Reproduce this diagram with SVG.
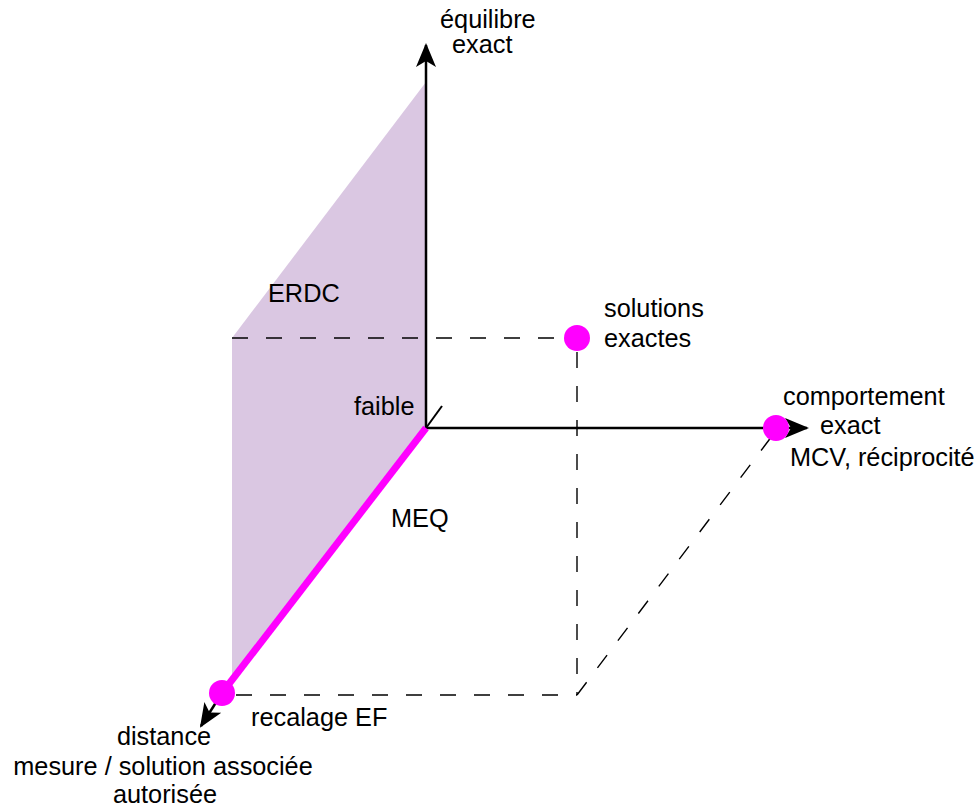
<svg xmlns="http://www.w3.org/2000/svg" width="980" height="809" viewBox="0 0 980 809">
<style>
text{font-family:"Liberation Sans",Arial,sans-serif;font-size:25.3px;fill:#000}
.dash{stroke:#000;stroke-width:1.4;fill:none;stroke-dasharray:16 18}
.axis{stroke:#000;stroke-width:2.5;fill:none}
.dot{fill:#ff00ff}
</style>
<defs>
<marker id="arr" viewBox="0 0 24 22" refX="22" refY="11" markerWidth="24" markerHeight="22" markerUnits="userSpaceOnUse" orient="auto">
<path d="M0,1 L24,11 L0,21 L6,11 Z" fill="#000"/>
</marker>
</defs>
<rect width="980" height="809" fill="#fff"/>
<g id="plane-erdc">
<polygon points="426,82 232,338 232,680 426,428" fill="#dac7e2"/>
<text x="268" y="302">ERDC</text>
</g>
<g id="connectors">
<line class="dash" x1="232" y1="338" x2="563" y2="338"/>
<line class="dash" x1="577" y1="352" x2="577" y2="695"/>
<line class="dash" x1="236" y1="695" x2="577" y2="695"/>
<line class="dash" x1="577" y1="695" x2="772" y2="436"/>
<line class="axis" x1="426" y1="428" x2="426" y2="45" marker-end="url(#arr)"/>
<line class="axis" x1="426" y1="428" x2="807" y2="428" marker-end="url(#arr)"/>
<line class="axis" x1="222" y1="693" x2="201" y2="726" marker-end="url(#arr)"/>
<line stroke="#000" stroke-width="2" x1="426" y1="428" x2="442" y2="406"/>
<line stroke="#ff00ff" stroke-width="7" x1="426" y1="428" x2="222" y2="693"/>
</g>
<g id="axis-equilibre">
<text x="440" y="28">équilibre</text>
<text x="452" y="53">exact</text>
</g>
<g id="origin">
<text x="354" y="415">faible</text>
<text x="391" y="527">MEQ</text>
</g>
<g id="solutions-exactes">
<circle class="dot" cx="577" cy="338" r="13"/>
<text x="604" y="317">solutions</text>
<text x="604" y="347">exactes</text>
</g>
<g id="comportement-exact">
<circle class="dot" cx="776" cy="428" r="13"/>
<text x="783" y="405">comportement</text>
<text x="820" y="434">exact</text>
<text x="790" y="466">MCV, réciprocité</text>
</g>
<g id="recalage-ef">
<circle class="dot" cx="222" cy="693" r="13"/>
<text x="251" y="726">recalage EF</text>
</g>
<g id="axis-distance">
<text x="164" y="745" text-anchor="middle">distance</text>
<text x="163" y="775" text-anchor="middle">mesure / solution associée</text>
<text x="165" y="803" text-anchor="middle">autorisée</text>
</g>
</svg>
